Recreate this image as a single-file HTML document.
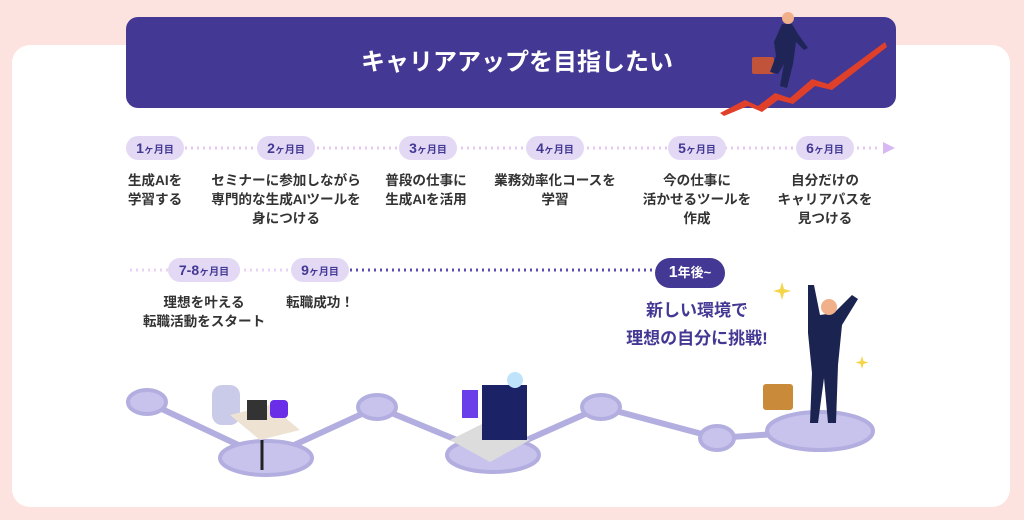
<!DOCTYPE html>
<html><head><meta charset="utf-8"><style>
body{margin:0;width:1024px;height:520px;background:#fde3df;font-family:"Liberation Sans","Noto Sans CJK JP",sans-serif;position:relative;overflow:hidden}
.panel{position:absolute;left:12px;top:45px;width:998px;height:462px;background:#fff;border-radius:18px}
.head{position:absolute;left:126px;top:17px;width:770px;height:91px;background:#433893;border-radius:12px;color:#fff;font-weight:bold;font-size:24px;line-height:91px;text-align:center;text-indent:12px}
.pill{position:absolute;height:24px;line-height:24px;border-radius:12px;background:#e3d9f5;color:#433893;font-weight:bold;font-size:14px;text-align:center;transform:translateX(-50%)}
.pill small{font-size:10px}
.pill.dk{background:#433893;color:#fff;height:30px;line-height:30px;border-radius:15px;font-size:16px}
.t{position:absolute;transform:translateX(-50%);text-align:center;font-weight:bold;font-size:13.6px;line-height:19px;color:#333;white-space:nowrap}
.big{position:absolute;transform:translateX(-50%);text-align:center;font-weight:bold;font-size:17px;line-height:28px;color:#433893;white-space:nowrap}
</style></head><body>
<div class="panel"></div>
<div class="head">キャリアアップを目指したい</div>
<svg style="position:absolute;left:0;top:0" width="1024" height="520">
<polygon points="720,113 745,100 758,106 775,93 790,98 812,79 828,84 885,42 887,47 832,90 815,86 793,104 778,100 762,112 748,106 724,116" fill="#e0402a"/>
<rect x="752" y="57" width="22" height="17" rx="2" fill="#c0533a"/>
<path d="M782,24 l10,0 l6,10 l10,14 -4,2 -8,-8 -3,22 -6,24 -7,-2 4,-22 -6,10 -8,-2 6,-16 -2,-14z" fill="#1f2557"/>
<circle cx="788" cy="18" r="6" fill="#f0b08a"/>
<line x1="185" y1="148" x2="880" y2="148" stroke="#e6c8f2" stroke-width="3" stroke-dasharray="2,4"/>
<polygon points="883,142 895,148 883,154" fill="#d8b8f0"/>
<line x1="130" y1="270" x2="350" y2="270" stroke="#ecd2f2" stroke-width="3" stroke-dasharray="2,4"/>
<line x1="350" y1="270" x2="665" y2="270" stroke="#5a4fb0" stroke-width="3" stroke-dasharray="2,4"/>
<polyline points="147,402 266,458 377,407 493,455 601,407 717,438 820,431" fill="none" stroke="#b3aee0" stroke-width="6"/>
<g fill="#c7c3ec" stroke="#b3aee0" stroke-width="4">
<ellipse cx="147" cy="402" rx="19" ry="12"/>
<ellipse cx="266" cy="458" rx="46" ry="17"/>
<ellipse cx="377" cy="407" rx="19" ry="12"/>
<ellipse cx="493" cy="455" rx="46" ry="17"/>
<ellipse cx="601" cy="407" rx="19" ry="12"/>
<ellipse cx="717" cy="438" rx="17" ry="12"/>
<ellipse cx="820" cy="431" rx="53" ry="19"/>
</g>
<rect x="212" y="385" width="28" height="40" rx="10" fill="#c9cbe8"/>
<polygon points="230,415 270,405 300,430 260,440" fill="#eee2d2"/>
<rect x="247" y="400" width="20" height="20" fill="#333"/>
<rect x="270" y="400" width="18" height="18" rx="4" fill="#6a2ee8"/>
<line x1="262" y1="440" x2="262" y2="470" stroke="#222" stroke-width="3"/>
<polygon points="450,440 490,420 530,440 490,462" fill="#dcdcdc"/>
<rect x="482" y="385" width="45" height="55" fill="#1c2266"/>
<rect x="462" y="390" width="16" height="28" fill="#6a3ee8"/>
<circle cx="515" cy="380" r="8" fill="#bfe3fb"/>
<path d="M808,285 l6,0 6,30 14,-2 18,-18 6,4 -16,26 -4,40 -2,58 -8,0 -4,-45 -6,45 -8,0 2,-50 -4,-40z" fill="#1b2350"/>
<circle cx="829" cy="307" r="8" fill="#f0b08a"/>
<rect x="763" y="384" width="30" height="26" rx="3" fill="#c98a3a"/>
<g fill="#f5d64a"><path d="M782,282 l2,7 7,2 -7,2 -2,7 -2,-7 -7,-2 7,-2z"/><path d="M862,356 l1.5,5 5,1.5 -5,1.5 -1.5,5 -1.5,-5 -5,-1.5 5,-1.5z"/></g>
</svg>
<div class="pill" style="left:155px;top:136px;width:58px">1<small>ヶ月目</small></div>
<div class="pill" style="left:286px;top:136px;width:58px">2<small>ヶ月目</small></div>
<div class="pill" style="left:428px;top:136px;width:58px">3<small>ヶ月目</small></div>
<div class="pill" style="left:555px;top:136px;width:58px">4<small>ヶ月目</small></div>
<div class="pill" style="left:697px;top:136px;width:58px">5<small>ヶ月目</small></div>
<div class="pill" style="left:825px;top:136px;width:58px">6<small>ヶ月目</small></div>
<div class="pill" style="left:204px;top:258px;width:72px">7-8<small>ヶ月目</small></div>
<div class="pill" style="left:320px;top:258px;width:58px">9<small>ヶ月目</small></div>
<div class="pill dk" style="left:690px;top:258px;width:70px">1<small style="font-size:13px">年後~</small></div>
<div class="t" style="left:155px;top:171px">生成AIを<br>学習する</div>
<div class="t" style="left:286px;top:171px">セミナーに参加しながら<br>専門的な生成AIツールを<br>身につける</div>
<div class="t" style="left:426px;top:171px">普段の仕事に<br>生成AIを活用</div>
<div class="t" style="left:555px;top:171px">業務効率化コースを<br>学習</div>
<div class="t" style="left:697px;top:171px">今の仕事に<br>活かせるツールを<br>作成</div>
<div class="t" style="left:825px;top:171px">自分だけの<br>キャリアパスを<br>見つける</div>
<div class="t" style="left:204px;top:293px">理想を叶える<br>転職活動をスタート</div>
<div class="t" style="left:320px;top:293px">転職成功！</div>
<div class="big" style="left:697px;top:297px">新しい環境で<br>理想の自分に挑戦!</div>
</body></html>
